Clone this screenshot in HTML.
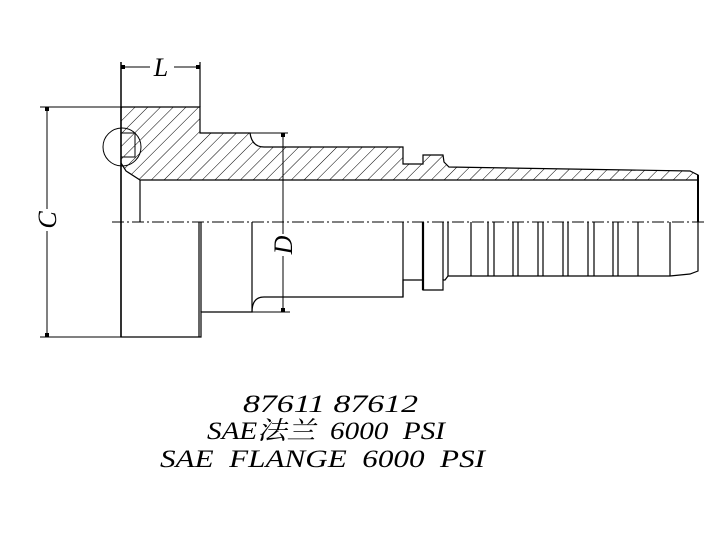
<!DOCTYPE html>
<html><head><meta charset="utf-8"><style>html,body{margin:0;padding:0;background:#fff}svg{display:block}text{white-space:pre}</style></head><body>
<svg width="723" height="535" viewBox="0 0 723 535" xmlns="http://www.w3.org/2000/svg" xml:space="preserve">
<defs>
<clipPath id="hc"><path d="M121,107 L200,107 L200,133 L250,133 Q252,147 264,147 L403,147 L403,164 L423,164 L423,155 L443,155 L444,162 L449,167 L690,171 L698,175 L698,180 L140,180 L126,171 L121,163 Z"/></clipPath>
<pattern id="hp" width="9" height="12" patternUnits="userSpaceOnUse" patternTransform="rotate(45)"><line x1="0" y1="0" x2="0" y2="12" stroke="#000" stroke-width="1"/></pattern>
</defs>
<g clip-path="url(#hc)"><rect x="100" y="100" width="620" height="90" fill="url(#hp)"/></g>
<g fill="none" stroke="#000" stroke-width="1.2">
<path d="M121,107 L200,107 L200,133 L250,133 Q252,147 264,147 L403,147 L403,164 L423,164 L423,155 L443,155 L444,162 L449,167 L690,171 L698,175 L698,271 L690,274 L670,276 L448,276 L445,280 L443,280 L443,290 L423,290 L423,280 L403,280 L403,297 L264,297 Q252,297 252,312 L201,312 L201,337 L121,337 Z"/>
<path d="M121,163 L126,171 L140,180 L698,180"/>
<line x1="140" y1="180" x2="140" y2="222"/>
<line x1="199" y1="222" x2="199" y2="337"/>
<line x1="201" y1="222" x2="201" y2="312"/>
<line x1="252" y1="222" x2="252" y2="312"/>
<line x1="403" y1="222" x2="403" y2="297"/>
<line x1="423" y1="222" x2="423" y2="290" stroke-width="2.2"/>
<line x1="443" y1="222" x2="443" y2="280"/>
<line x1="448" y1="222" x2="448" y2="276"/>
<line x1="471" y1="222" x2="471" y2="276"/>
<line x1="488" y1="222" x2="488" y2="276"/><line x1="494" y1="222" x2="494" y2="276"/>
<line x1="513" y1="222" x2="513" y2="276"/><line x1="518" y1="222" x2="518" y2="276"/>
<line x1="538" y1="222" x2="538" y2="276"/><line x1="543" y1="222" x2="543" y2="276"/>
<line x1="563" y1="222" x2="563" y2="276"/><line x1="568" y1="222" x2="568" y2="276"/>
<line x1="588" y1="222" x2="588" y2="276"/><line x1="594" y1="222" x2="594" y2="276"/>
<line x1="613" y1="222" x2="613" y2="276"/><line x1="618" y1="222" x2="618" y2="276"/>
<line x1="638" y1="222" x2="638" y2="276"/>
<line x1="670" y1="222" x2="670" y2="276"/>
<line x1="698" y1="175" x2="698" y2="222" stroke-width="2"/>
<line x1="121" y1="62" x2="121" y2="337" stroke-width="1.5"/>
<line x1="200" y1="62" x2="200" y2="107"/>
<line x1="121" y1="67" x2="200" y2="67" stroke-width="1"/>
<line x1="40" y1="107" x2="121" y2="107" stroke-width="1"/>
<line x1="40" y1="337" x2="121" y2="337" stroke-width="1"/>
<line x1="47" y1="107" x2="47" y2="337" stroke-width="1"/>
<line x1="250" y1="133" x2="288" y2="133" stroke-width="1"/>
<line x1="245" y1="312" x2="290" y2="312" stroke-width="1"/>
<line x1="283" y1="133" x2="283" y2="312" stroke-width="1"/>
<circle cx="122" cy="147" r="19" stroke-width="1"/>
<path d="M121,133 L135,133 L135,157 L121,157" stroke-width="1"/>
<line x1="112" y1="222" x2="706" y2="222" stroke-width="1" stroke-dasharray="12,3,2,3"/>
</g>
<g fill="#000">
<rect x="121" y="65" width="4" height="4"/><rect x="196" y="65" width="4" height="4"/>
<rect x="45" y="107" width="4" height="4"/><rect x="45" y="333" width="4" height="4"/>
<rect x="281" y="133" width="4" height="4"/><rect x="281" y="308" width="4" height="4"/>
</g>
<g font-family="'Liberation Serif','Noto Serif CJK SC',serif" font-style="italic" fill="#000">
<rect x="150" y="56" width="24" height="20" fill="#fff"/>
<text x="161" y="76" font-size="26" text-anchor="middle">L</text>
<g transform="translate(56,220) rotate(-90)"><rect x="-11" y="-18" width="22" height="22" fill="#fff"/><text x="0" y="0" font-size="26" text-anchor="middle">C</text></g>
<g transform="translate(292,245) rotate(-90)"><rect x="-11" y="-18" width="22" height="22" fill="#fff"/><text x="0" y="0" font-size="26" text-anchor="middle">D</text></g>
<text x="243" y="412" font-size="25" textLength="175" lengthAdjust="spacingAndGlyphs">87611 87612</text>
<text x="207" y="439" font-size="25" textLength="238" lengthAdjust="spacingAndGlyphs">SAE法兰  6000  PSI</text>
<text x="160" y="467" font-size="25" textLength="325" lengthAdjust="spacingAndGlyphs">SAE  FLANGE  6000  PSI</text>
</g>
</svg>
</body></html>
